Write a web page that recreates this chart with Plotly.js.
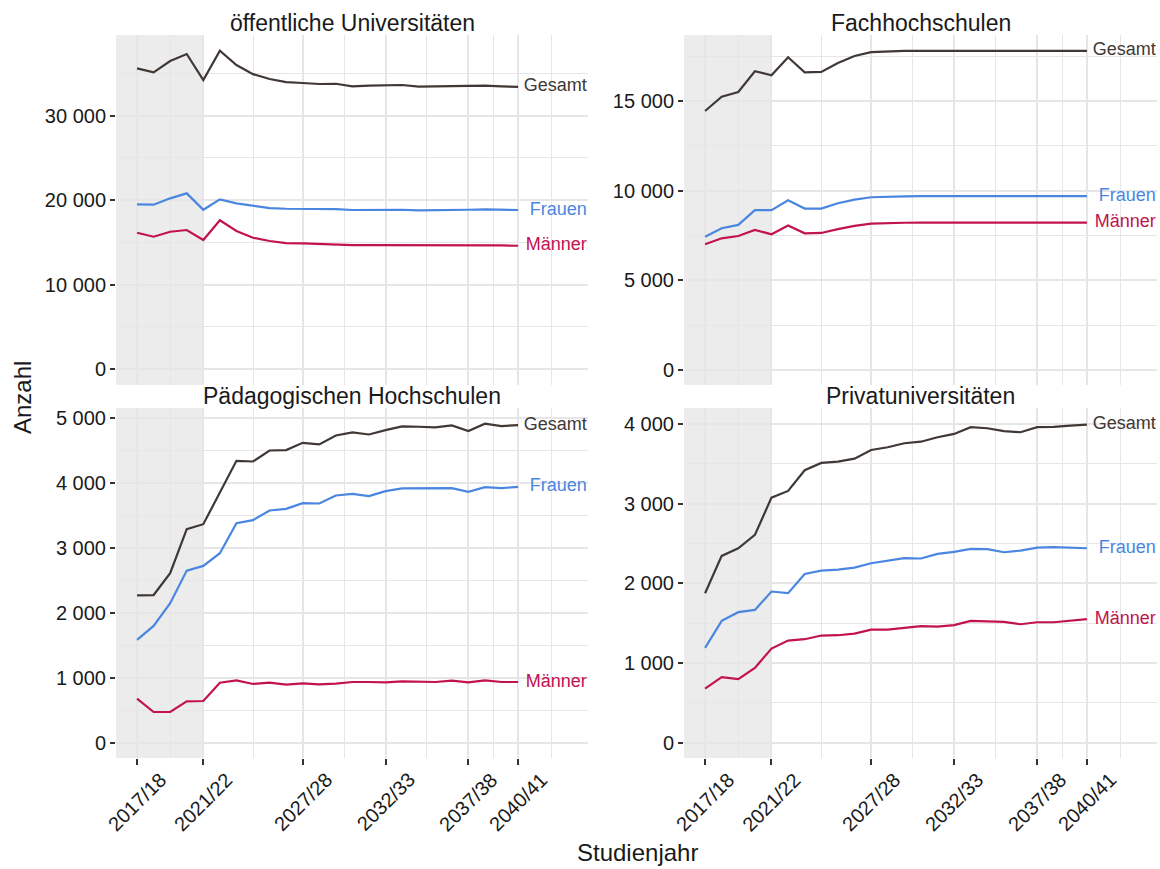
<!DOCTYPE html>
<html>
<head>
<meta charset="utf-8">
<script src="https://cdn.plot.ly/plotly-3.0.1.min.js"></script>
<style>
  html, body { margin: 0; padding: 0; background: #fff; }
  #plot { width: 1160px; height: 869px; }
</style>
</head>
<body>
<div id="plot"></div>
<script>
const years = [2017, 2018, 2019, 2020, 2021, 2022, 2023, 2024, 2025, 2026, 2027, 2028,
	2029, 2030, 2031, 2032, 2033, 2034, 2035, 2036, 2037, 2038, 2039, 2040];

const tickYears = [2017, 2021, 2027, 2032, 2037, 2040];
const tickLabels = ['2017/18', '2021/22', '2027/28', '2032/33', '2037/38', '2040/41'];
const minorYears = [2019, 2024, 2029.5, 2034.5, 2038.5, 2042];

const panelTitles = ['öffentliche Universitäten', 'Fachhochschulen', 'Pädagogischen Hochschulen', 'Privatuniversitäten'];
const seriesNames = ['Gesamt', 'Frauen', 'Männer'];

// öffentliche Universitäten
const uniGesamt = [35580, 35100, 36450, 37280, 34200, 37670, 35980, 34900, 34320, 33960, 33850, 33730,
	33760, 33450, 33530, 33570, 33610, 33410, 33430, 33450, 33450, 33530, 33450, 33380];
const uniFrauen = [19490, 19450, 20200, 20790, 18850, 20080, 19600, 19290, 19050, 18970, 18970, 18900,
	18930, 18820, 18850, 18850, 18850, 18780, 18780, 18820, 18850, 18900, 18820, 18820];
const uniMaenner = [16130, 15660, 16250, 16450, 15270, 17600, 16330, 15540, 15150, 14910, 14870, 14790,
	14750, 14670, 14670, 14670, 14710, 14630, 14670, 14630, 14630, 14670, 14630, 14590];

// Fachhochschulen
const fhGesamt = [14440, 15240, 15500, 16660, 16430, 17440, 16600, 16620, 17120, 17510, 17720, 17770,
	17790, 17800, 17800, 17800, 17800, 17800, 17800, 17800, 17800, 17800, 17800, 17800];
const fhFrauen = [7430, 7900, 8090, 8910, 8910, 9460, 9000, 9000, 9300, 9500, 9630, 9670,
	9680, 9690, 9690, 9690, 9690, 9690, 9690, 9690, 9690, 9690, 9690, 9690];
const fhMaenner = [7010, 7340, 7470, 7810, 7570, 8050, 7620, 7640, 7850, 8030, 8160, 8200,
	8210, 8220, 8220, 8220, 8220, 8220, 8220, 8220, 8220, 8220, 8220, 8220];

// Pädagogische Hochschulen
const phGesamt = [2270, 2275, 2610, 3287, 3364, 3851, 4338, 4328, 4497, 4503, 4615, 4590,
	4728, 4774, 4743, 4810, 4867, 4862, 4851, 4882, 4795, 4908, 4872, 4887];
const phFrauen = [1585, 1800, 2150, 2651, 2723, 2918, 3380, 3426, 3574, 3600, 3687, 3682,
	3805, 3831, 3795, 3872, 3913, 3913, 3908, 3918, 3862, 3933, 3918, 3938];
const phMaenner = [682, 477, 477, 641, 646, 928, 964, 908, 928, 897, 918, 903,
	913, 938, 938, 933, 949, 944, 938, 959, 933, 964, 938, 938];

// Privatuniversitäten
const puGesamt = [1877, 2345, 2441, 2608, 3076, 3160, 3419, 3511, 3527, 3565, 3674, 3708,
	3758, 3777, 3833, 3875, 3959, 3946, 3909, 3896, 3959, 3963, 3979, 3992];
const puFrauen = [1191, 1530, 1639, 1668, 1898, 1877, 2119, 2161, 2173, 2198, 2253, 2282,
	2316, 2312, 2370, 2395, 2433, 2429, 2391, 2412, 2449, 2454, 2449, 2441];
const puMaenner = [681, 824, 799, 940, 1183, 1283, 1300, 1346, 1350, 1371, 1421, 1421,
	1442, 1463, 1459, 1476, 1530, 1521, 1517, 1488, 1513, 1513, 1530, 1551];

const panels = [
	[uniGesamt, uniFrauen, uniMaenner],
	[fhGesamt, fhFrauen, fhMaenner],
	[phGesamt, phFrauen, phMaenner],
	[puGesamt, puFrauen, puMaenner],
];

const colors = ['#403835', '#4a86e0', '#c2134f'];
const shadeEnd = 2021;
const xRange = [2015.73, 2044.22];
const labelX = 2044.15;

// panel geometry in pixels (left, right, top, bottom), converted to domains below
const W = 1160, H = 869;
const boxes = [
	[116, 588, 35, 385],
	[684, 1157, 35, 385],
	[116, 588, 408, 758],
	[684, 1157, 408, 758],
];
const yRanges = [[-1890, 39530], [-840, 18680], [-230, 5150], [-190, 4200]];
const yDticks = [10000, 5000, 1000, 1000];

const FONT = 'Liberation Sans, Arial, sans-serif';
const tickFont = {family: FONT, size: 20, color: '#1a1a1a'};

function buildTraces() {
	const data = [];
	panels.forEach((series, p) => {
		const suffix = p === 0 ? '' : String(p + 1);
		series.forEach((values, s) => {
			data.push({
				x: years,
				y: values,
				xaxis: 'x' + suffix,
				yaxis: 'y' + suffix,
				mode: 'lines',
				line: {color: colors[s], width: 2.2},
				hoverinfo: 'skip',
				showlegend: false,
			});
			// series label at the end of each line
			data.push({
				x: [labelX],
				y: [values[values.length - 1]],
				xaxis: 'x' + suffix,
				yaxis: 'y' + suffix,
				mode: 'text',
				text: [seriesNames[s]],
				textposition: 'middle left',
				textfont: {family: FONT, size: 18, color: colors[s]},
				cliponaxis: false,
				hoverinfo: 'skip',
				showlegend: false,
			});
		});
	});
	return data;
}

function buildLayout() {
	const layout = {
		width: W,
		height: H,
		margin: {l: 0, r: 0, t: 0, b: 0},
		paper_bgcolor: '#fff',
		plot_bgcolor: '#fff',
		separators: '. ',
		showlegend: false,
		font: tickFont,
		shapes: [],
		annotations: [],
	};
	boxes.forEach((b, p) => {
		const suffix = p === 0 ? '' : String(p + 1);
		const bottomRow = p >= 2;
		layout['xaxis' + suffix] = {
			domain: [b[0] / W, b[1] / W],
			anchor: 'y' + suffix,
			range: xRange,
			tickmode: 'array',
			tickvals: tickYears,
			ticktext: tickLabels,
			showticklabels: false,
			ticks: bottomRow ? 'outside' : '',
			ticklen: 6,
			tickwidth: 2,
			tickcolor: '#333',
			showgrid: true,
			gridcolor: '#e6e6e6',
			gridwidth: 2,
			minor: {tickmode: 'array', tickvals: minorYears, showgrid: true, gridcolor: '#e6e6e6', gridwidth: 1},
			zeroline: false,
			showline: false,
			automargin: false,
			fixedrange: true,
		};
		layout['yaxis' + suffix] = {
			domain: [1 - b[3] / H, 1 - b[2] / H],
			anchor: 'x' + suffix,
			range: yRanges[p],
			dtick: yDticks[p],
			tick0: 0,
			tickformat: ',d',
			ticks: 'outside',
			ticklen: 5,
			tickwidth: 2,
			tickcolor: '#333',
			tickfont: tickFont,
			showgrid: true,
			gridcolor: '#e6e6e6',
			gridwidth: 2,
			minor: {dtick: yDticks[p] / 2, showgrid: true, gridcolor: '#e6e6e6', gridwidth: 1},
			zeroline: false,
			showline: false,
			automargin: false,
			fixedrange: true,
		};
		// shaded period up to 2021/22, translucent so the grid stays visible
		layout.shapes.push({
			type: 'rect',
			xref: 'x' + suffix,
			yref: 'y' + suffix + ' domain',
			x0: xRange[0],
			x1: shadeEnd,
			y0: 0,
			y1: 1,
			fillcolor: 'rgba(0,0,0,0.075)',
			line: {width: 0},
			layer: 'below',
		});
		layout.annotations.push({
			text: panelTitles[p],
			xref: 'paper',
			yref: 'paper',
			x: (b[0] + b[1]) / 2 / W,
			y: 1 - (b[2] + 3) / H,
			xanchor: 'center',
			yanchor: 'bottom',
			showarrow: false,
			font: {family: FONT, size: 23, color: '#1a1a1a'},
		});
		// rotated x tick labels, centred under each tick (bottom row only)
		if (bottomRow) {
			tickYears.forEach((yr, k) => {
				layout.annotations.push({
					text: tickLabels[k],
					xref: 'x' + suffix,
					yref: 'paper',
					x: yr,
					y: 1 - 802 / H,
					textangle: -45,
					xanchor: 'center',
					yanchor: 'middle',
					showarrow: false,
					font: tickFont,
				});
			});
		}
	});
	layout.annotations.push({
		text: 'Anzahl',
		xref: 'paper',
		yref: 'paper',
		x: 22 / W,
		y: 1 - 398 / H,
		textangle: -90,
		xanchor: 'center',
		yanchor: 'middle',
		showarrow: false,
		font: {family: FONT, size: 24, color: '#1a1a1a'},
	});
	layout.annotations.push({
		text: 'Studienjahr',
		xref: 'paper',
		yref: 'paper',
		x: 637 / W,
		y: 1 - 852 / H,
		xanchor: 'center',
		yanchor: 'middle',
		showarrow: false,
		font: {family: FONT, size: 24, color: '#1a1a1a'},
	});
	return layout;
}

Plotly.newPlot('plot', buildTraces(), buildLayout(), {staticPlot: true});
</script>
</body>
</html>
